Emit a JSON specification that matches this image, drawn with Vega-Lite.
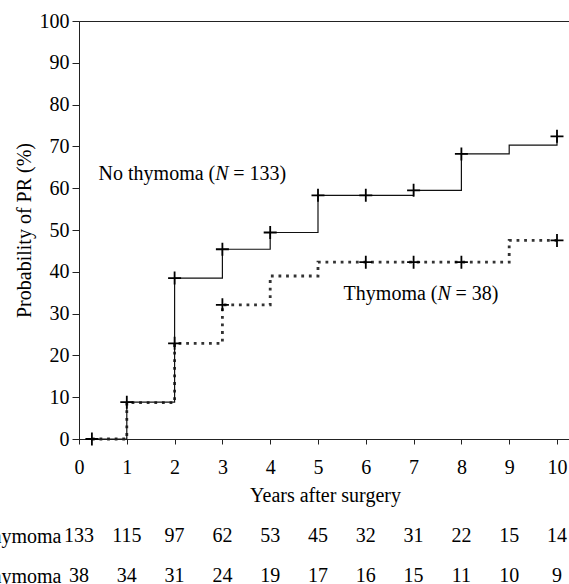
{
  "$schema": "https://vega.github.io/schema/vega-lite/v6.json",
  "autosize": {"type": "pad"},
  "padding": {"left": -44, "top": 10, "right": 0, "bottom": 0},
  "background": "white",
  "bounds": "flush",
  "spacing": 77,
  "config": {
    "font": "Liberation Serif",
    "text": {"font": "Liberation Serif"},
    "view": {"stroke": null},
    "axis": {
      "labelFont": "Liberation Serif",
      "titleFont": "Liberation Serif",
      "labelFontSize": 20,
      "titleFontSize": 20,
      "titleFontWeight": "normal",
      "labelColor": "black",
      "titleColor": "black",
      "domainColor": "#222",
      "tickColor": "#222",
      "grid": false,
      "labelFlush": false
    }
  },
  "datasets": {
    "curves": [
      {"group": "No thymoma", "year": 0.27, "pct": 0},
      {"group": "No thymoma", "year": 1, "pct": 8.8},
      {"group": "No thymoma", "year": 2, "pct": 38.5},
      {"group": "No thymoma", "year": 3, "pct": 45.4},
      {"group": "No thymoma", "year": 4, "pct": 49.4},
      {"group": "No thymoma", "year": 5, "pct": 58.3},
      {"group": "No thymoma", "year": 6, "pct": 58.3},
      {"group": "No thymoma", "year": 7, "pct": 59.5},
      {"group": "No thymoma", "year": 8, "pct": 68.2},
      {"group": "No thymoma", "year": 9, "pct": 70.3},
      {"group": "No thymoma", "year": 10, "pct": 72.4},
      {"group": "Thymoma", "year": 0.27, "pct": 0},
      {"group": "Thymoma", "year": 1, "pct": 8.7},
      {"group": "Thymoma", "year": 2, "pct": 22.9},
      {"group": "Thymoma", "year": 3, "pct": 32.1},
      {"group": "Thymoma", "year": 4, "pct": 39.0},
      {"group": "Thymoma", "year": 5, "pct": 42.3},
      {"group": "Thymoma", "year": 9, "pct": 47.5},
      {"group": "Thymoma", "year": 10, "pct": 47.5}
    ],
    "censor": [
      {"year": 0.27, "pct": 0},
      {"year": 1, "pct": 8.8},
      {"year": 2, "pct": 38.5},
      {"year": 3, "pct": 45.4},
      {"year": 4, "pct": 49.4},
      {"year": 5, "pct": 58.3},
      {"year": 6, "pct": 58.3},
      {"year": 7, "pct": 59.5},
      {"year": 8, "pct": 68.2},
      {"year": 10, "pct": 72.4},
      {"year": 2, "pct": 22.9},
      {"year": 3, "pct": 32.1},
      {"year": 6, "pct": 42.3},
      {"year": 7, "pct": 42.3},
      {"year": 8, "pct": 42.3},
      {"year": 10, "pct": 47.5}
    ],
    "notes": [
      {"year": 2.85, "pct": 63.4, "pre": "No thymoma (", "n": "N", "post": "\u00a0=\u00a0133)"},
      {"year": 7.5, "pct": 34.6, "pre": "Thymoma (", "n": "N", "post": "\u00a0=\u00a038)"}
    ],
    "risk": [
      {"group": "No thymoma", "year": 0, "n": 133},
      {"group": "No thymoma", "year": 1, "n": 115},
      {"group": "No thymoma", "year": 2, "n": 97},
      {"group": "No thymoma", "year": 3, "n": 62},
      {"group": "No thymoma", "year": 4, "n": 53},
      {"group": "No thymoma", "year": 5, "n": 45},
      {"group": "No thymoma", "year": 6, "n": 32},
      {"group": "No thymoma", "year": 7, "n": 31},
      {"group": "No thymoma", "year": 8, "n": 22},
      {"group": "No thymoma", "year": 9, "n": 15},
      {"group": "No thymoma", "year": 10, "n": 14},
      {"group": "Thymoma", "year": 0, "n": 38},
      {"group": "Thymoma", "year": 1, "n": 34},
      {"group": "Thymoma", "year": 2, "n": 31},
      {"group": "Thymoma", "year": 3, "n": 24},
      {"group": "Thymoma", "year": 4, "n": 19},
      {"group": "Thymoma", "year": 5, "n": 17},
      {"group": "Thymoma", "year": 6, "n": 16},
      {"group": "Thymoma", "year": 7, "n": 15},
      {"group": "Thymoma", "year": 8, "n": 11},
      {"group": "Thymoma", "year": 9, "n": 10},
      {"group": "Thymoma", "year": 10, "n": 9}
    ]
  },
  "vconcat": [
    {
      "width": 492,
      "height": 418,
      "view": {"stroke": "#222", "strokeWidth": 1},
      "encoding": {
        "x": {
          "field": "year", "type": "quantitative",
          "scale": {"domain": [0, 10.293], "nice": false, "zero": false},
          "axis": {
            "values": [0, 1, 2, 3, 4, 5, 6, 7, 8, 9, 10],
            "tickSize": 5, "labelPadding": 13,
            "title": "Years after surgery", "titlePadding": 8
          }
        },
        "y": {
          "field": "pct", "type": "quantitative",
          "scale": {"domain": [0, 100], "nice": false},
          "axis": {
            "values": [0, 10, 20, 30, 40, 50, 60, 70, 80, 90, 100],
            "tickSize": 7, "labelPadding": 3,
            "title": "Probability of PR (%)", "titlePadding": 5
          }
        }
      },
      "layer": [
        {
          "data": {"name": "curves"},
          "transform": [{"filter": "datum.group == 'Thymoma'"}],
          "mark": {"type": "line", "interpolate": "step-after", "color": "#333", "strokeWidth": 2.8, "strokeDash": [2.8, 4.8], "strokeCap": "butt"}
        },
        {
          "data": {"name": "curves"},
          "transform": [{"filter": "datum.group == 'No thymoma'"}],
          "mark": {"type": "line", "interpolate": "step-after", "color": "#111", "strokeWidth": 1.2}
        },
        {
          "data": {"name": "censor"},
          "mark": {"type": "point", "shape": "M-1,0L1,0M0,-1L0,1", "filled": false, "stroke": "black", "strokeWidth": 1.8, "size": 169, "opacity": 1}
        },
        {
          "data": {"name": "notes"},
          "mark": {"type": "text", "align": "right", "baseline": "middle", "fontSize": 20, "color": "black"},
          "encoding": {"text": {"field": "pre"}}
        },
        {
          "data": {"name": "notes"},
          "mark": {"type": "text", "align": "left", "baseline": "middle", "fontSize": 20, "fontStyle": "italic", "color": "black"},
          "encoding": {"text": {"field": "n"}}
        },
        {
          "data": {"name": "notes"},
          "mark": {"type": "text", "align": "left", "baseline": "middle", "fontSize": 20, "dx": 18, "color": "black"},
          "encoding": {"text": {"field": "post"}}
        }
      ]
    },
    {
      "width": 492,
      "height": 80,
      "view": {"stroke": null},
      "data": {"name": "risk"},
      "mark": {"type": "text", "fontSize": 20, "color": "black", "align": "center", "baseline": "middle"},
      "encoding": {
        "x": {"field": "year", "type": "quantitative", "scale": {"domain": [0, 10.293], "nice": false, "zero": false}, "axis": null},
        "y": {"field": "group", "type": "nominal", "sort": ["No thymoma", "Thymoma"], "axis": {"title": null, "domain": false, "ticks": false, "labelPadding": 18, "labelFontSize": 20}},
        "text": {"field": "n", "type": "quantitative"}
      }
    }
  ]
}
